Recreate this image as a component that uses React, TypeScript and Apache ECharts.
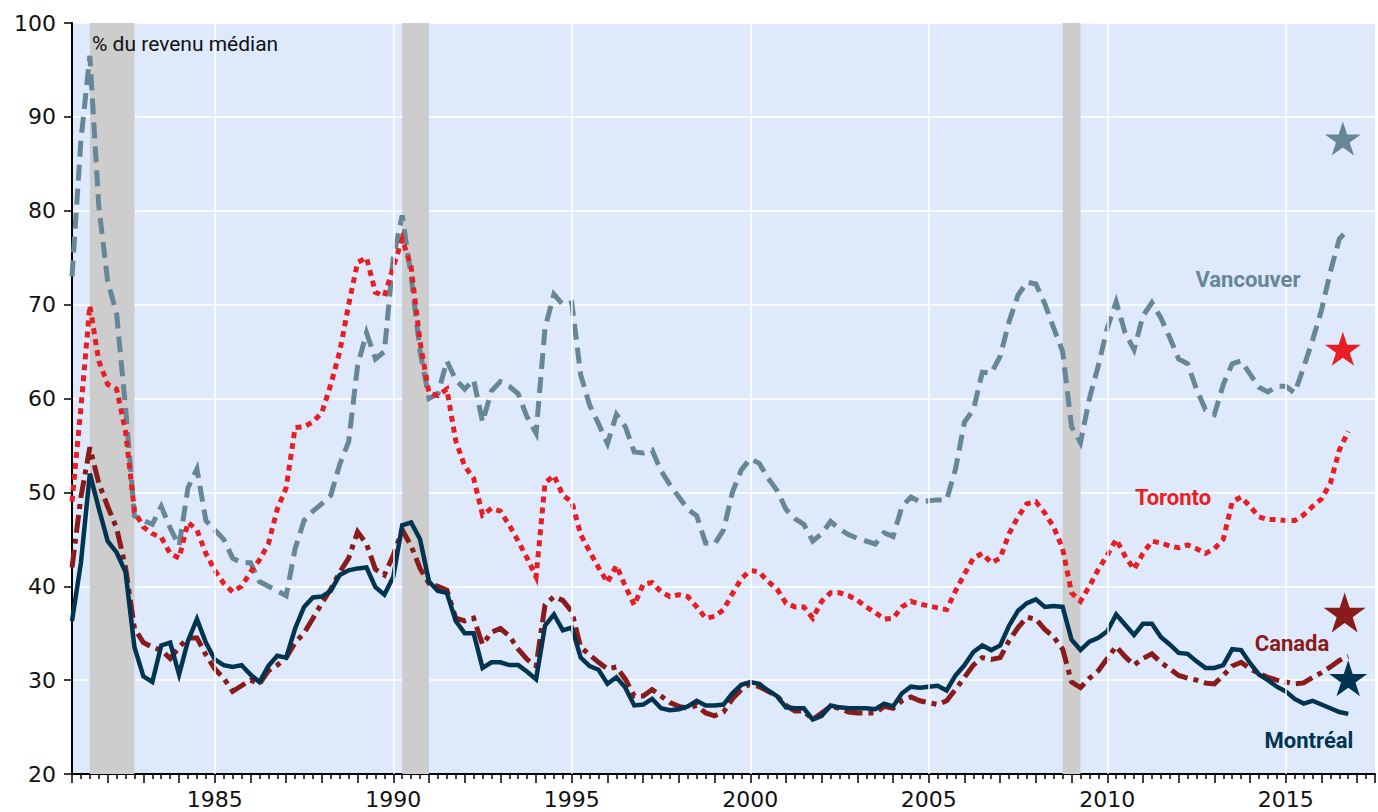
import React, { useEffect, useRef } from "react";
import * as echarts from "echarts";

// Quarterly data, 1981Q1 .. 2016Q4 (% of median income)
const START_YEAR = 1981;

const vancouver = [
  73, 87.5, 96.5, 80.5, 72.5, 69, 59, 47.5, 47, 46.6, 48.5, 46.2, 44.3, 50.5, 52.5, 47,
  46, 45, 43, 42.5, 42.5, 40.5, 40, 39.5, 39, 44, 47, 48, 48.8, 49.7, 53, 55.4,
  63.5, 67, 64.2, 65, 75, 79.5, 73, 65, 60, 60.5, 64, 62, 61, 62, 57.5, 60.8,
  61.8, 61.3, 60.5, 58, 56.3, 67.5, 71.1, 70, 70.2, 62.5, 59.3, 57.3, 55.2, 58.3, 57, 54.3,
  54.2, 54.5, 52.3, 50.8, 49.5, 48.2, 47.5, 44.6, 44.5, 46, 50, 52.4, 53.6, 53.1, 51.5, 50.2,
  48.2, 47.2, 46.6, 44.8, 45.6, 46.9, 46.1, 45.5, 45.1, 44.8, 44.5, 45.7, 45.3, 48.5, 49.5, 49,
  49.1, 49.2, 49.2, 52.5, 57.5, 58.8, 62.8, 62.7, 64.5, 68.2, 71, 72.4, 72.2, 70.1, 67.5, 65,
  57, 55.3, 60, 63.5, 67.5, 70.3, 67, 65.2, 68.8, 70.2, 68.6, 66.5, 64.2, 63.7, 61, 58.8,
  58.3, 61.5, 63.7, 64, 62.6, 61.2, 60.7, 61.3, 61.3, 60.6, 63.3, 66.2, 69.4, 73.5, 77, 78,
];

const toronto = [
  49, 59, 69.9, 64, 61.5, 61, 56.5, 48, 46.3, 45.6, 45.2, 43.5, 43, 46.8, 46, 43.5,
  41.7, 40.3, 39.4, 40, 41.5, 42.8, 44.5, 48.2, 50.5, 56.9, 57, 57.5, 58.5, 61.5, 65, 70,
  74.5, 75, 71.3, 70.9, 74, 77, 74, 66, 60.6, 60.3, 61, 55.5, 52.8, 51.5, 47.6, 48.3,
  48, 46.5, 44.8, 43, 41, 51, 51.8, 49.7, 49, 45.5, 43.7, 42, 40.4, 42.2, 40, 38,
  40.2, 40.4, 39.4, 38.9, 39.1, 38.9, 37.8, 36.6, 36.8, 37.5, 39.2, 40.8, 41.7, 41.5, 40.5, 39.7,
  38.2, 37.8, 37.8, 36.6, 38.4, 39.3, 39.3, 39, 38.5, 37.8, 37.2, 36.5, 36.6, 37.8, 38.4, 38.1,
  37.9, 37.7, 37.5, 39.5, 41.3, 43, 43.5, 42.5, 43, 45.6, 47.4, 48.8, 49, 47.8, 46.3, 44,
  39.3, 38.4, 40, 41.8, 43.3, 45, 43.2, 41.8, 43.5, 44.8, 44.6, 44.3, 44.1, 44.4, 44, 43.5,
  44, 45, 49, 49.5, 48.5, 47.4, 47.1, 47.1, 47, 47, 47.6, 48.5, 49.3, 51, 54.5, 56.5,
];

const canada = [
  42, 49.5, 54.8, 51, 48.5, 46.2, 42, 35.5, 34, 33.5, 33.2, 32.3, 33.5, 34.5, 34.5, 32.7,
  31.2, 30.2, 28.8, 29.4, 30, 29.6, 31, 31.6, 32.4, 34, 35, 36.6, 38.2, 39.7, 41.5, 43,
  45.8, 44.5, 41.8, 41.2, 43.3, 46, 44.3, 41.9, 40.3, 40, 39.6, 36.6, 36.3, 36.6, 33.8, 35.1,
  35.5, 34.7, 33.3, 32.2, 31.5, 38, 38.9, 38.5, 37.3, 33.5, 32.7, 31.9, 31.2, 31.4, 30.1, 28.3,
  28.3, 29, 28.3, 27.6, 27.2, 27, 27.3, 26.5, 26.2, 26.6, 28, 29, 29.6, 29.3, 28.8, 28.3,
  27.3, 26.7, 26.7, 25.8, 26.5, 27.2, 27, 26.6, 26.5, 26.5, 26.5, 27.2, 27, 27.8, 28.2, 27.8,
  27.6, 27.4, 27.8, 29, 30.3, 31.6, 32.4, 32.2, 32.4, 34.2, 35.6, 36.7, 36.5, 35.4, 34.6, 33.3,
  29.8, 29.2, 30.2, 31, 32.3, 33.6, 32.5, 31.6, 32.3, 32.8, 31.9, 31.2, 30.5, 30.2, 30, 29.7,
  29.6, 30.5, 31.5, 31.9, 31.2, 30.7, 30.3, 30, 29.8, 29.6, 29.7, 30.3, 30.8, 31.4, 32.1, 32.5,
];

const montreal = [
  36.3, 42.5, 52, 48.3, 44.8, 43.6, 41.5, 33.5, 30.4, 29.8, 33.7, 34, 30.6, 34.2, 36.5, 34,
  32.2, 31.6, 31.4, 31.6, 30.6, 29.8, 31.5, 32.6, 32.4, 35.5, 37.8, 38.8, 38.9, 39.5, 41.2, 41.7,
  41.9, 42, 39.9, 39.1, 41, 46.5, 46.8, 45, 40.5, 39.5, 39.3, 36.3, 35, 35, 31.3, 31.9,
  31.9, 31.6, 31.6, 30.9, 30.1, 35.8, 37, 35.3, 35.6, 32.4, 31.5, 31.1, 29.6, 30.3, 29.2, 27.3,
  27.4, 28, 27, 26.8, 26.9, 27.2, 27.8, 27.3, 27.3, 27.4, 28.6, 29.5, 29.8, 29.6, 28.9, 28.3,
  27.1, 27, 27, 25.8, 26.2, 27.3, 27.1, 27, 27, 27, 26.9, 27.5, 27.2, 28.6, 29.3, 29.2,
  29.3, 29.4, 28.9, 30.5, 31.6, 33, 33.7, 33.2, 33.7, 35.8, 37.4, 38.2, 38.6, 37.8, 37.9, 37.8,
  34.3, 33.2, 34.1, 34.5, 35.2, 37, 35.9, 34.8, 36, 36, 34.6, 33.8, 32.9, 32.8, 32, 31.3,
  31.3, 31.6, 33.3, 33.2, 31.8, 30.6, 30, 29.3, 28.8, 28, 27.5, 27.8, 27.4, 27, 26.6, 26.4,
];

// Recessions (shaded) and 5-year gridlines
const recessions = [
  [1981.5, 1982.75],
  [1990.25, 1991.0],
  [2008.75, 2009.25],
];
const gridYears = [1985, 1990, 1995, 2000, 2005, 2010, 2015];

// Stars (latest observation markers)
const starNames = ["Vancouver", "Toronto", "Canada", "Montréal"];
const starX = [2016.6, 2016.6, 2016.65, 2016.75];
const starY = [87.7, 65.3, 37.2, 30.2];

const COLORS: Record<string, string> = {
  Vancouver: "#668797",
  Toronto: "#e81e25",
  Canada: "#8a1b1b",
  "Montréal": "#003450",
};

const STAR_PATH =
  "path://M0,-1L0.2245,-0.309L0.951,-0.309L0.363,0.118L0.588,0.809L0,0.382L-0.588,0.809L-0.363,0.118L-0.951,-0.309L-0.2245,-0.309Z";
const starSizes = [[36, 34], [36, 34], [42, 40], [38, 36]];

const toPairs = (arr: number[]) => arr.map((v, i) => [START_YEAR + i / 4, v]);

export default function App() {
  const ref = useRef<HTMLDivElement>(null);

  useEffect(() => {
    if (!ref.current) return;
    const chart = echarts.init(ref.current, undefined, { renderer: "svg" });

    const lineSeries = (name: string, data: number[], width: number, type: any) => ({
      name,
      type: "line",
      data: toPairs(data),
      showSymbol: false,
      symbol: "none",
      z: 3,
      lineStyle: { color: COLORS[name], width, type, cap: "butt", join: "miter" },
      itemStyle: { color: COLORS[name] },
    });

    const labelFont = "Roboto, 'Noto Sans', sans-serif";

    const option: any = {
      animation: false,
      grid: {
        left: 72,
        right: 2,
        top: 23,
        bottom: 38,
        show: true,
        backgroundColor: "#deeafb",
        borderWidth: 0,
      },
      xAxis: {
        type: "value",
        min: 1981,
        max: 2017.5,
        interval: 1,
        axisLine: { show: true, onZero: false, lineStyle: { color: "#000", width: 2 } },
        axisTick: { show: true, length: 9, lineStyle: { color: "#000", width: 1.5 } },
        minorTick: { show: true, splitNumber: 4, length: 5, lineStyle: { color: "#000", width: 1.5 } },
        splitLine: { show: false },
        axisLabel: {
          show: true,
          margin: 14,
          color: "#111",
          fontSize: 22,
          fontFamily: "'DejaVu Sans', sans-serif",
          formatter: (v: number) => (Math.abs(v % 5) < 1e-9 ? String(v) : ""),
        },
      },
      yAxis: {
        type: "value",
        min: 20,
        max: 100,
        interval: 10,
        axisLine: { show: true, lineStyle: { color: "#000", width: 2 } },
        axisTick: { show: true, length: 8, lineStyle: { color: "#000", width: 1.5 } },
        splitLine: { show: true, lineStyle: { color: "#ffffff", width: 1.5 } },
        axisLabel: {
          margin: 16,
          color: "#111",
          fontSize: 22,
          fontFamily: "'DejaVu Sans', sans-serif",
        },
      },
      series: [
        {
          name: "bg",
          type: "line",
          data: [],
          z: 1,
          silent: true,
          markArea: {
            silent: true,
            itemStyle: { color: "#cdcdcd", opacity: 1 },
            data: recessions.map(([a, b]) => [{ xAxis: a }, { xAxis: b }]),
          },
          markLine: {
            silent: true,
            symbol: ["none", "none"],
            label: { show: false },
            lineStyle: { color: "#ffffff", width: 1.5, type: "solid" },
            data: gridYears.map((y) => ({ xAxis: y })),
          },
        },
        lineSeries("Vancouver", vancouver, 5, [16, 8]),
        lineSeries("Toronto", toronto, 5, [6, 5]),
        lineSeries("Canada", canada, 5, [18, 6, 5, 6]),
        lineSeries("Montréal", montreal, 4.5, "solid"),
        {
          name: "stars",
          type: "scatter",
          z: 4,
          symbol: STAR_PATH,
          symbolKeepAspect: false,
          data: starNames.map((n, i) => ({
            value: [starX[i], starY[i]],
            symbolSize: starSizes[i],
            itemStyle: { color: COLORS[n], opacity: 1 },
          })),
        },
      ],
      graphic: [
        {
          type: "text",
          left: 92,
          top: 33,
          z: 10,
          style: {
            text: "% du revenu médian",
            fill: "#111",
            font: "21px " + labelFont,
          },
        },
        {
          type: "text",
          x: 1248,
          y: 279,
          z: 10,
          style: {
            text: "Vancouver",
            fill: COLORS.Vancouver,
            font: "bold 22px " + labelFont,
            textAlign: "center",
            textVerticalAlign: "middle",
          },
        },
        {
          type: "text",
          x: 1173,
          y: 497,
          z: 10,
          style: {
            text: "Toronto",
            fill: COLORS.Toronto,
            font: "bold 22px " + labelFont,
            textAlign: "center",
            textVerticalAlign: "middle",
          },
        },
        {
          type: "text",
          x: 1292,
          y: 643,
          z: 10,
          style: {
            text: "Canada",
            fill: COLORS.Canada,
            font: "bold 22px " + labelFont,
            textAlign: "center",
            textVerticalAlign: "middle",
          },
        },
        {
          type: "text",
          x: 1309,
          y: 740,
          z: 10,
          style: {
            text: "Montréal",
            fill: COLORS["Montréal"],
            font: "bold 22px " + labelFont,
            textAlign: "center",
            textVerticalAlign: "middle",
          },
        },
      ],
    };

    chart.setOption(option);
    return () => chart.dispose();
  }, []);

  return (
    <div
      ref={ref}
      style={{ position: "fixed", left: 0, top: 0, width: 1378, height: 812, background: "#ffffff" }}
    />
  );
}
